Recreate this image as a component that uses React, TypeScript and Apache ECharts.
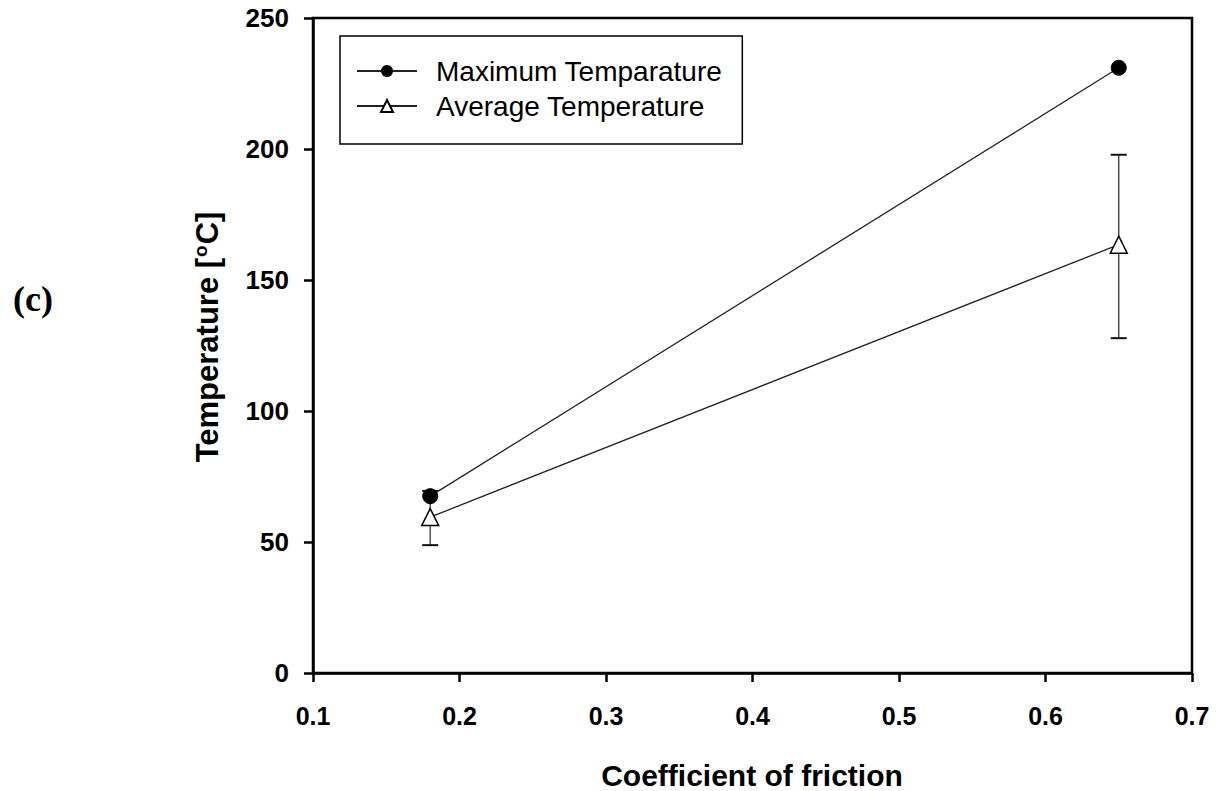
import React, { useEffect, useRef } from "react";
import * as echarts from "echarts";

const frictionX = [0.18, 0.65];
const maxTemp = [67.5, 231];
const avgTemp = [59.5, 163.5];
const avgErrLow = [48.8, 127.8];
const avgErrHigh = [69.5, 197.8];
const xTicks = [0.1, 0.2, 0.3, 0.4, 0.5, 0.6, 0.7];
const yTicks = [0, 50, 100, 150, 200, 250];
const legendNames = ["Maximum Temparature", "Average Temperature"];

const SANS = "'Liberation Sans', Arial, Helvetica, sans-serif";

export default function App() {
  const ref = useRef<HTMLDivElement>(null);

  useEffect(() => {
    if (!ref.current) return;
    const chart = echarts.init(ref.current, undefined, { renderer: "svg" });

    const maxData = frictionX.map((x, i) => [x, maxTemp[i]]);
    const avgData = frictionX.map((x, i) => [x, avgTemp[i]]);
    const errData = frictionX.map((x, i) => [x, avgErrLow[i], avgErrHigh[i]]);

    const option: any = {
      animation: false,
      backgroundColor: "#ffffff",
      grid: {
        left: 313,
        right: 27,
        top: 18,
        bottom: 118,
        show: true,
        borderColor: "#000",
        borderWidth: 2.5,
        backgroundColor: "transparent",
      },
      xAxis: {
        type: "value",
        min: xTicks[0],
        max: xTicks[xTicks.length - 1],
        interval: 0.1,
        axisLine: { show: true, onZero: false, lineStyle: { color: "#000", width: 2.5 } },
        axisTick: { show: true, inside: false, length: 9, lineStyle: { color: "#000", width: 2.5 } },
        splitLine: { show: false },
        axisLabel: {
          margin: 30,
          color: "#000",
          fontFamily: SANS,
          fontWeight: "bold",
          fontSize: 25,
          formatter: (v: number) => v.toFixed(1),
        },
      },
      yAxis: {
        type: "value",
        min: yTicks[0],
        max: yTicks[yTicks.length - 1],
        interval: 50,
        axisLine: { show: true, lineStyle: { color: "#000", width: 2.5 } },
        axisTick: { show: true, inside: false, length: 9, lineStyle: { color: "#000", width: 2.5 } },
        splitLine: { show: false },
        axisLabel: {
          margin: 24,
          color: "#000",
          fontFamily: SANS,
          fontWeight: "bold",
          fontSize: 26,
        },
      },
      legend: {
        show: true,
        orient: "vertical",
        left: 340,
        top: 36,
        data: legendNames,
        backgroundColor: "#fff",
        borderColor: "#000",
        borderWidth: 1.5,
        padding: [21, 20, 24, 16],
        itemGap: 7,
        itemWidth: 60,
        itemHeight: 15,
        textStyle: {
          color: "#000",
          fontFamily: SANS,
          fontSize: 28,
          padding: [0, 0, 0, 14],
        },
      },
      graphic: [
        {
          type: "text",
          x: 207,
          y: 337,
          rotation: Math.PI / 2,
          style: {
            text: "Temperature [{sup|o}C]",
            fill: "#000",
            font: "bold 31px " + SANS,
            align: "center",
            verticalAlign: "middle",
            rich: {
              sup: { fontSize: 19, fontWeight: "bold", fontFamily: SANS, fill: "#000", padding: [0, 1, 13, 1] },
            },
          },
        },
        {
          type: "text",
          x: 752,
          y: 775,
          style: {
            text: "Coefficient of friction",
            fill: "#000",
            font: "bold 30px " + SANS,
            align: "center",
            verticalAlign: "middle",
          },
        },
        {
          type: "text",
          x: 33,
          y: 299,
          style: {
            text: "(c)",
            fill: "#000",
            font: "bold 36px 'Liberation Serif', 'Times New Roman', serif",
            align: "center",
            verticalAlign: "middle",
          },
        },
      ],
      series: [
        {
          name: "Average error",
          type: "custom",
          z: 1,
          data: errData,
          encode: { x: 0, y: [1, 2] },
          renderItem: (params: any, api: any) => {
            const x = api.value(0);
            const lo = api.coord([x, api.value(1)]);
            const hi = api.coord([x, api.value(2)]);
            const hw = 8;
            const st = { stroke: "#333", lineWidth: 1.3 };
            return {
              type: "group",
              children: [
                { type: "line", shape: { x1: lo[0], y1: lo[1], x2: hi[0], y2: hi[1] }, style: st },
                { type: "line", shape: { x1: lo[0] - hw, y1: lo[1], x2: lo[0] + hw, y2: lo[1] }, style: { stroke: "#111", lineWidth: 2 } },
                { type: "line", shape: { x1: hi[0] - hw, y1: hi[1], x2: hi[0] + hw, y2: hi[1] }, style: { stroke: "#111", lineWidth: 2 } },
              ],
            };
          },
        },
        {
          name: legendNames[0],
          type: "line",
          z: 3,
          data: maxData,
          symbol: "circle",
          symbolSize: 15,
          itemStyle: { color: "#000", borderColor: "#000" },
          lineStyle: { color: "#222", width: 1.3 },
        },
        {
          name: legendNames[1],
          type: "line",
          z: 3,
          data: avgData,
          symbol: "triangle",
          symbolSize: 17,
          itemStyle: { color: "#fff", borderColor: "#000", borderWidth: 1.5 },
          lineStyle: { color: "#222", width: 1.3 },
        },
      ],
    };

    chart.setOption(option);
    return () => chart.dispose();
  }, []);

  return (
    <div
      ref={ref}
      style={{ position: "fixed", left: 0, top: 0, width: 1219, height: 791, background: "#fff" }}
    />
  );
}
